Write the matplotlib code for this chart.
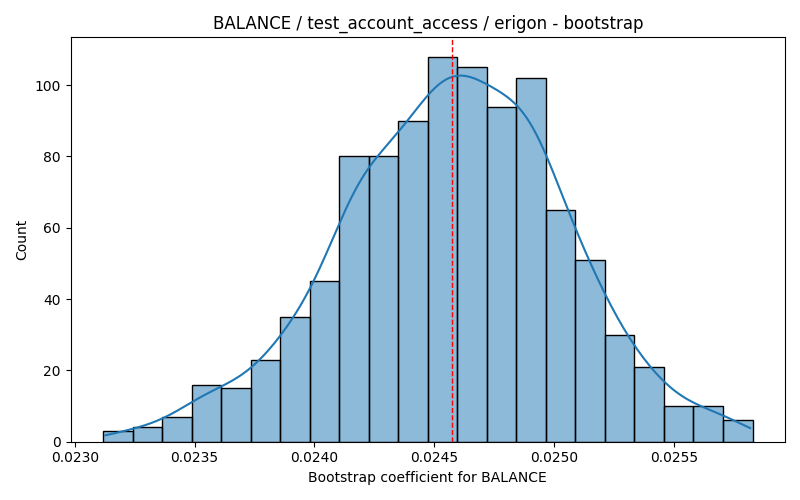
import numpy as np
import pandas as pd
import matplotlib
matplotlib.use("Agg")
import matplotlib.pyplot as plt
import seaborn as sns

# Histogram data
bin_start = 0.023118
bin_end = 0.0258286
counts = [3, 4, 7, 16, 15, 23, 35, 45, 80, 80, 90, 108, 105, 94, 102, 65, 51, 30, 21, 10, 10, 6]
point_estimate = 0.0245734

edges = np.linspace(bin_start, bin_end, len(counts) + 1)
centers = (edges[:-1] + edges[1:]) / 2
df = pd.DataFrame({"x": centers, "w": counts})

fig, ax = plt.subplots(figsize=(8, 5), dpi=100)
sns.histplot(data=df, x="x", weights="w", bins=len(counts), binrange=(bin_start, bin_end),
             kde=True, kde_kws={"bw_adjust": 0.40, "cut": 0.3}, ax=ax)
ax.axvline(point_estimate, color="red", linestyle="--", linewidth=1)
ax.set_title("BALANCE / test_account_access / erigon - bootstrap")
ax.set_xlabel("Bootstrap coefficient for BALANCE")
ax.set_ylabel("Count")
ax.set_xlim(bin_start - 0.05 * (bin_end - bin_start), bin_end + 0.05 * (bin_end - bin_start))
fig.tight_layout()
fig.savefig("out.png")
